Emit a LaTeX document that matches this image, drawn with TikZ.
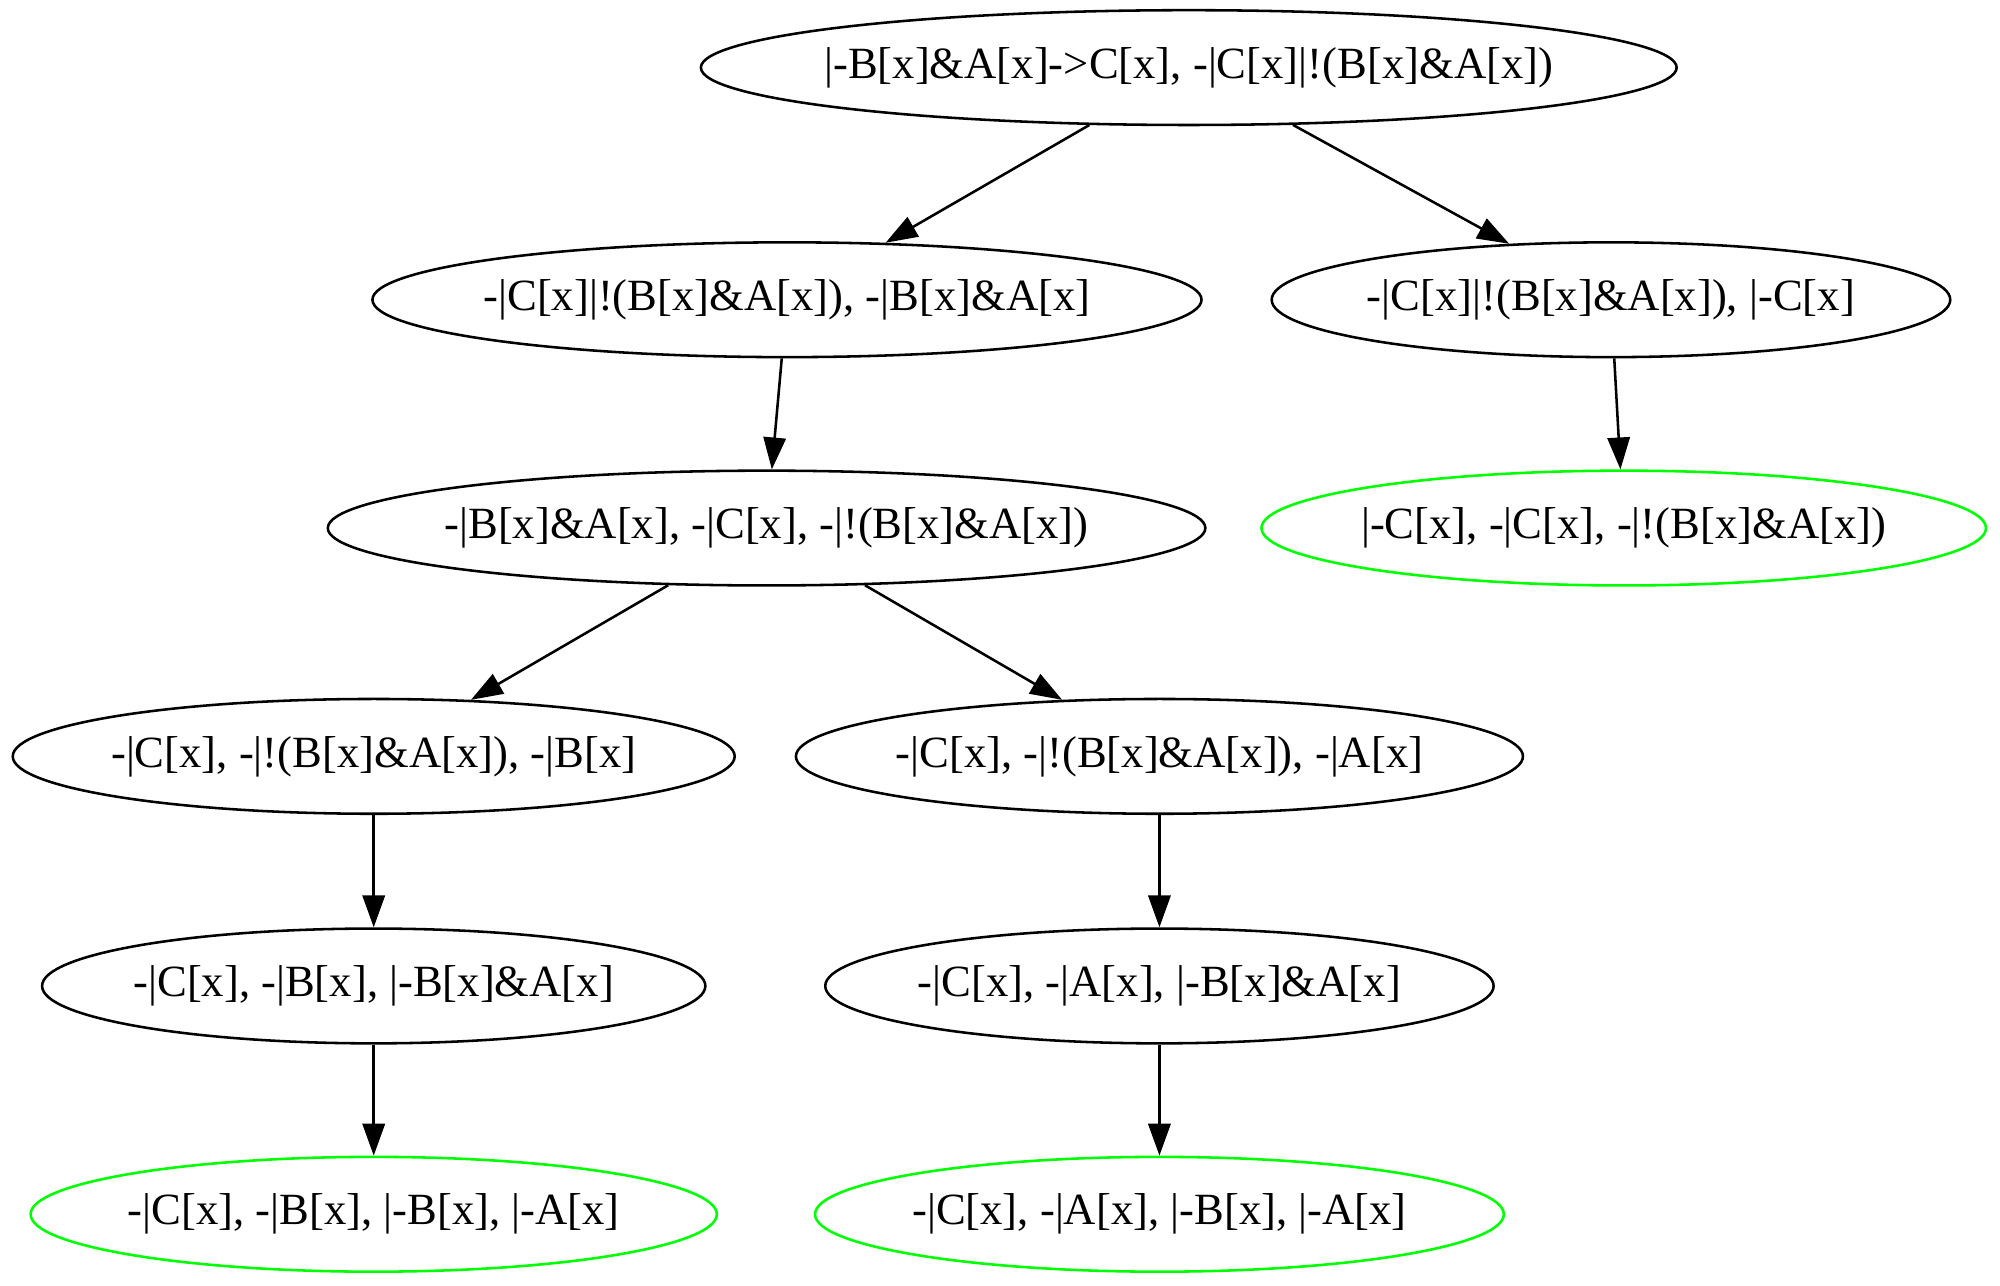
\documentclass[tikz,border=0pt]{standalone}
\usepackage{fontspec}
\setmainfont{Liberation Serif}
\usetikzlibrary{shapes.geometric,arrows.meta}
\definecolor{leafgreen}{RGB}{0,255,0}
\tikzset{
  seq/.style = {
    draw, ellipse, line width=0.8pt, inner sep=0pt,
    minimum height=36pt
  },
  closed/.style = {seq, draw=leafgreen},
  every label/.style = {font=\fontsize{14}{16}\selectfont, inner sep=0pt}
}
\tikzset{>={Triangle[length=10pt,width=7pt]}}

\begin{document}
\begin{tikzpicture}[x=1pt,y=-1pt]
  \useasboundingbox (0,0) rectangle (627.2,403);
  \node[seq,minimum width=306pt,label=center:{|-B[x]\&A[x]->C[x], -|C[x]|!(B[x]\&A[x])}] (s0) at (372.8,21.2) {};
  \node[seq,minimum width=260pt,label=center:{-|C[x]|!(B[x]\&A[x]), -|B[x]\&A[x]}] (s1) at (246.8,94) {};
  \node[seq,minimum width=212.8pt,label=center:{-|C[x]|!(B[x]\&A[x]), |-C[x]}] (s2) at (505.2,94) {};
  \node[seq,minimum width=275.2pt,label=center:{-|B[x]\&A[x], -|C[x], -|!(B[x]\&A[x])}] (s3) at (240.4,165.6) {};
  \node[closed,minimum width=227.2pt,label=center:{|-C[x], -|C[x], -|!(B[x]\&A[x])}] (s4) at (509.2,165.6) {};
  \node[seq,minimum width=226.4pt,label=center:{-|C[x], -|!(B[x]\&A[x]), -|B[x]}] (s5) at (117.2,237.2) {};
  \node[seq,minimum width=228pt,label=center:{-|C[x], -|!(B[x]\&A[x]), -|A[x]}] (s6) at (363.6,237.2) {};
  \node[seq,minimum width=208pt,label=center:{-|C[x], -|B[x], |-B[x]\&A[x]}] (s7) at (117.2,309.2) {};
  \node[seq,minimum width=209.6pt,label=center:{-|C[x], -|A[x], |-B[x]\&A[x]}] (s8) at (363.6,309.2) {};
  \node[closed,minimum width=215.2pt,label=center:{-|C[x], -|B[x], |-B[x], |-A[x]}] (s9) at (117.2,380.8) {};
  \node[closed,minimum width=216pt,label=center:{-|C[x], -|A[x], |-B[x], |-A[x]}] (s10) at (363.6,380.8) {};
  \foreach \a/\b in {s0/s1,s0/s2,s1/s3,s2/s4,s3/s5,s3/s6,s5/s7,s6/s8,s7/s9,s8/s10}
    \draw[->,line width=0.8pt] (\a) -- (\b);
\end{tikzpicture}
\end{document}
